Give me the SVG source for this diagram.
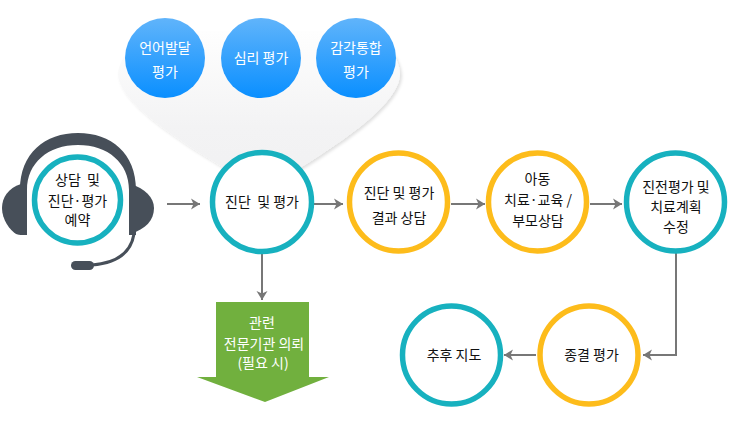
<svg xmlns="http://www.w3.org/2000/svg" width="730" height="440" viewBox="0 0 730 440">
<style>
text{font-family:"Noto Sans CJK KR","Noto Sans",sans-serif;font-size:14px;text-anchor:middle;fill:#111;white-space:pre}
.w text,text.w{fill:#fff}
.c{fill:#fff;stroke-width:5.5}
.t{stroke:#17b1bf}
.y{stroke:#fdbc1b}
.b{fill:url(#blue)}
.l{fill:none;stroke:#777;stroke-width:2;marker-end:url(#a)}
.h{fill:#474f59}
</style>
<defs>
<marker id="a" markerUnits="userSpaceOnUse" markerWidth="10" markerHeight="12" refX="9" refY="6" orient="auto"><path d="M0 .5L9 6L0 11.500L2.500 6Z" fill="#777"/></marker>
<linearGradient id="blue" x1="0" y1="0" x2="0" y2="1"><stop offset="0" stop-color="#60b4fb"/><stop offset="1" stop-color="#0a8fff"/></linearGradient>
<linearGradient id="gray" x1="0" y1="0" x2="0" y2="1"><stop offset="0" stop-color="#fefefe"/><stop offset=".6" stop-color="#f3f3f4"/><stop offset="1" stop-color="#f1f1f2"/></linearGradient>
<filter id="s" x="-5%" y="-5%" width="110%" height="115%"><feDropShadow dx="2" dy="2" stdDeviation="1.500" flood-color="#000" flood-opacity=".12"/></filter>
</defs>
<g id="bubble"><path d="M165 32H356C385 38 399 56 400 74C399 102 350 140 262 190C174 140 119 102 118 74C119 56 136 38 165 32Z" fill="url(#gray)" filter="url(#s)"/></g>
<g id="connectors">
<path class="l" d="M167 204H200"/>
<path class="l" d="M312 204H343"/>
<path class="l" d="M451 204H485"/>
<path class="l" d="M590 204H622"/>
<path class="l" d="M262 253V300"/>
<path class="l" d="M676 253V355H643"/>
<path class="l" d="M536 355H504"/>
</g>
<g id="headset">
<path class="h" d="M20 235V190C20 153 45 133 78 133C111 133 136 153 136 190V235H129V190C129 163 108 145 78 145C48 145 27 163 27 190V235Z"/>
<path class="h" d="M21 184C8 188 2 198 2 208C2 220 10 230 16 234Q26 237 26 230V184Z"/>
<path class="h" d="M130 184C145 188 154 198 154 208C154 220 146 229 130 234Z"/>
<path d="M134 234C131 252 118 263 92 265" fill="none" stroke="#474f59" stroke-width="3"/>
<rect class="h" x="71" y="261" width="23" height="9" rx="4.500"/>
</g>
<g id="n1"><circle class="c t" cx="77.500" cy="200" r="43"/><text x="77.500" y="185">상담  및</text><text x="77.500" y="206">진단·평가</text><text x="77.500" y="225">예약</text></g>
<g id="n2" class="w"><circle class="b" cx="165" cy="58" r="40"/><text x="165" y="53">언어발달</text><text x="165" y="77">평가</text></g>
<g id="n3" class="w"><circle class="b" cx="261" cy="58" r="40"/><text x="261" y="63">심리 평가</text></g>
<g id="n4" class="w"><circle class="b" cx="356" cy="58" r="40"/><text x="356" y="53">감각통합</text><text x="356" y="77">평가</text></g>
<g id="n5"><circle class="c t" cx="262" cy="202" r="49.500"/><text x="262" y="207">진단  및 평가</text></g>
<g id="n6"><circle class="c y" cx="398.500" cy="202" r="49"/><text x="399" y="198">진단 및 평가</text><text x="399" y="223">결과 상담</text></g>
<g id="n7"><circle class="c y" cx="537.500" cy="202" r="49"/><text x="537.500" y="184">아동</text><text x="538" y="205">치료·교육 /</text><text x="538" y="226">부모상담</text></g>
<g id="n8"><circle class="c t" cx="675.500" cy="202" r="49"/><text x="676" y="192">진전평가 및</text><text x="676" y="212">치료계획</text><text x="676" y="232">수정</text></g>
<g id="n9"><circle class="c y" cx="589" cy="355" r="49"/><text x="591.500" y="360">종결 평가</text></g>
<g id="n10"><circle class="c t" cx="451.500" cy="355" r="49"/><text x="454" y="360">추후 지도</text></g>
<g id="n11" class="w"><path d="M216 302H309V377H329L265 402L197 377H216Z" fill="#71b03e"/><text x="262" y="328">관련</text><text x="264" y="349">전문기관 의뢰</text><text x="263" y="368">(필요 시)</text></g>
</svg>
